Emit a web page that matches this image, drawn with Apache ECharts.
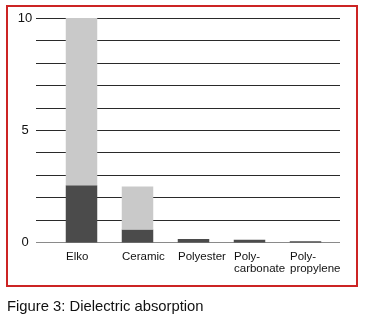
<!DOCTYPE html>
<html>
<head>
<meta charset="utf-8">
<script src="https://cdn.jsdelivr.net/npm/echarts@6/dist/echarts.min.js"></script>
<style>html,body{margin:0;padding:0;background:#fff}#c{width:367px;height:316px}</style>
</head>
<body>
<div id="c"></div>
<script>
var categories = ['Elko', 'Ceramic', 'Polyester', 'Poly-\ncarbonate', 'Poly-\npropylene'];
var darkValues = [2.55, 0.58, 0.16, 0.12, 0.06];
var lightValues = [7.45, 1.92, 0, 0, 0];
var yTickLabels = ['0', '5', '10'];

var chart = echarts.init(document.getElementById('c'), null, {renderer: 'canvas'});
var font = 'Liberation Sans, Arial, sans-serif';
var gridColors = ['#8a8a8a'];
for (var i = 1; i <= 10; i++) gridColors.push('#2a2a2a');
chart.setOption({
  animation: false,
  title: {
    text: 'Figure 3: Dielectric absorption',
    left: 2, top: 294,
    textStyle: {fontFamily: font, fontSize: 14.8, fontWeight: 'normal', color: '#111'}
  },
  graphic: [{
    type: 'rect', shape: {x: 7, y: 6, width: 350, height: 280},
    style: {fill: 'none', stroke: '#cc2424', lineWidth: 2}, z: 100
  }],
  grid: [
    {left: 36, right: 27, top: 18, bottom: 73.5},
    {left: 53.5, width: 280, top: 18, bottom: 73.5},
    {left: 38, width: 280, top: 18, bottom: 73.5}
  ],
  xAxis: [
    {gridIndex: 0, type: 'value', show: false, min: 0, max: 1},
    {gridIndex: 1, type: 'category', data: categories,
     axisLine: {show: false}, axisTick: {show: false}, axisLabel: {show: false}},
    {gridIndex: 2, type: 'category', data: categories,
     axisLine: {show: false}, axisTick: {show: false},
     axisLabel: {align: 'left', margin: 8, fontFamily: font, fontSize: 11.5, color: '#111', lineHeight: 12, interval: 0}}
  ],
  yAxis: [
    {gridIndex: 0, type: 'value', min: 0, max: 10, interval: 1,
     axisLine: {show: false}, axisTick: {show: false},
     splitLine: {show: true, lineStyle: {color: gridColors, width: 1}},
     axisLabel: {align: 'center', margin: 11, fontFamily: font, fontSize: 13, color: '#111',
       formatter: function (v) { var s = String(v); return yTickLabels.indexOf(s) >= 0 ? s : ''; }}},
    {gridIndex: 1, type: 'value', min: 0, max: 10, show: false},
    {gridIndex: 2, type: 'value', min: 0, max: 10, show: false}
  ],
  series: [
    {type: 'bar', xAxisIndex: 1, yAxisIndex: 1, stack: 's', data: darkValues, barWidth: 31.5,
     itemStyle: {color: '#4b4b4b'}, z: 3},
    {type: 'bar', xAxisIndex: 1, yAxisIndex: 1, stack: 's', data: lightValues, barWidth: 31.5,
     itemStyle: {color: '#c9c9c9'}, z: 3}
  ]
});
</script>
</body>
</html>
